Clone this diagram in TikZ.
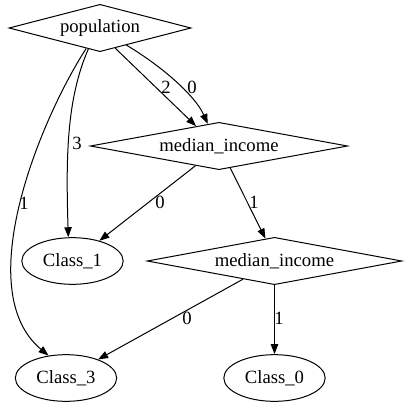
\documentclass[tikz,border=0pt]{standalone}
\usepackage{fontspec}
\setmainfont{Liberation Serif}
\usetikzlibrary{shapes.geometric, arrows.meta}

\begin{document}
\begin{tikzpicture}[x=0.75pt, y=-0.75pt, line width=0.75pt, font=\fontsize{14}{16}\selectfont,
    split/.style={draw, diamond, aspect=5, inner sep=0pt, minimum width=#1, minimum height=35.5pt},
    leaf/.style={draw, ellipse, inner sep=0pt, minimum width=76pt, minimum height=35pt},
    branch/.style={-{Triangle[length=7.5pt,width=5.5pt]}}]

    \useasboundingbox (0,0) rectangle (407,407);

    \node (pop) [split=136.5pt] at (100,28) {population};
    \node (med1) [split=193pt] at (219,146) {median\_income};
    \node (med2) [split=191pt] at (274.5,261) {median\_income};
    \node (c1) [leaf] at (72.5,261) {Class\_1};
    \node (c3) [leaf] at (66,378) {Class\_3};
    \node (c0) [leaf] at (274.5,378) {Class\_0};

    \draw[branch] (pop.-124) .. controls (40,120) and (-30,290) .. (c3.128);
    \draw[branch] (pop.-119) .. controls (66,100) and (66,160) .. (c1.100);
    \draw[branch] (pop.-53) -- (med1.139);
    \draw[branch] (pop.-33) .. controls (160,65) and (195,95) .. (med1.117);
    \draw[branch] (med1.-140) -- (c1.37);
    \draw[branch] (med1.-63) -- (med2.112);
    \draw[branch] (med2.-150) -- (c3.30);
    \draw[branch] (med2.south) -- (c0.north);

    \foreach \t/\x/\y [count=\i] in {1/24/203, 3/77/143, 2/166/87, 0/192/87, 0/160/202, 1/254/202, 0/187/318, 1/279/318}
    \node (lbl\i) at (\x,\y) {\t};

\end{tikzpicture}
\end{document}
